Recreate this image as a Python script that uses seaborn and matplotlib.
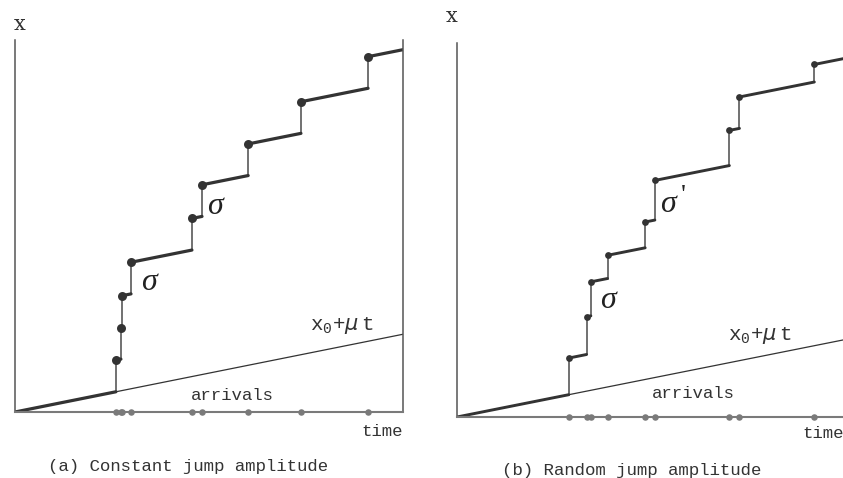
import numpy as np
import pandas as pd
import seaborn as sns
import matplotlib.pyplot as plt

# ---------------------------------------------------------------
# Data (time and level both on 0..10)
# ---------------------------------------------------------------
T_END = 10.0

# (a) constant jump amplitude
mu_a = 0.209
sigma_a = 0.85
arrivals_a = [2.60, 2.73, 2.76, 2.99, 4.56, 4.82, 6.01, 7.37, 9.10]
jumps_a = [sigma_a] * len(arrivals_a)

# (b) random jump amplitude
mu_b = 0.207
arrivals_b = [2.88, 3.34, 3.45, 3.88, 4.85, 5.10, 7.02, 7.28, 9.21]
jumps_b = [0.98, 1.01, 0.91, 0.62, 0.69, 1.06, 0.94, 0.84, 0.47]

captions = ["(a) Constant jump amplitude", "(b) Random jump amplitude"]

# ---------------------------------------------------------------
# Style
# ---------------------------------------------------------------
sns.set_theme(style="white")
plt.rcParams["font.family"] = ["Liberation Mono", "DejaVu Sans"]
plt.rcParams["mathtext.fontset"] = "custom"
plt.rcParams["mathtext.rm"] = "Liberation Mono"
plt.rcParams["mathtext.it"] = "DejaVu Sans:italic"

W, H = 843, 478
DARK = "#333333"
MID = "#666666"
LIGHT = "#7a7a7a"


def fx(px):
    return px / W


def fy(py):
    return 1 - py / H


def build_path(arrivals, jumps, mu):
    """Return flat segments, vertical jumps and post-jump points."""
    seg_rows, jump_rows, dots = [], [], []
    t_prev, level = 0.0, 0.0
    for k, (t, j) in enumerate(zip(arrivals, jumps)):
        pre = level + mu * (t - t_prev)
        seg_rows += [(k, t_prev, level), (k, t, pre)]
        post = pre + j
        jump_rows += [(k, t, pre), (k, t, post)]
        dots.append((t, post))
        t_prev, level = t, post
    end = level + mu * (T_END - t_prev)
    seg_rows += [(len(arrivals), t_prev, level), (len(arrivals), T_END, end)]
    segs = pd.DataFrame(seg_rows, columns=["seg", "t", "x"])
    jmps = pd.DataFrame(jump_rows, columns=["seg", "t", "x"])
    pts = pd.DataFrame(dots, columns=["t", "x"])
    return segs, jmps, pts


def draw_panel(ax, arrivals, jumps, mu, lw, dot_size):
    segs, jmps, pts = build_path(arrivals, jumps, mu)
    drift = pd.DataFrame({"t": [0.0, T_END], "x": [0.0, mu * T_END]})

    sns.lineplot(data=drift, x="t", y="x", ax=ax, color=DARK, lw=0.9,
                 estimator=None, sort=False)
    sns.lineplot(data=jmps, x="t", y="x", units="seg", ax=ax, color=MID,
                 lw=1.3, estimator=None, sort=False)
    sns.lineplot(data=segs, x="t", y="x", units="seg", ax=ax, color=DARK,
                 lw=lw, estimator=None, sort=False)
    sns.scatterplot(data=pts, x="t", y="x", ax=ax, color=DARK, s=dot_size,
                    edgecolor=DARK, linewidth=0, zorder=5)
    base = pd.DataFrame({"t": arrivals, "x": [0.0] * len(arrivals)})
    sns.scatterplot(data=base, x="t", y="x", ax=ax, color=LIGHT, s=22,
                    edgecolor=LIGHT, linewidth=0, zorder=6, clip_on=False)

    ax.set_xlim(0, T_END)
    ax.set_ylim(0, T_END)
    ax.set_xticks([])
    ax.set_yticks([])
    ax.set_xlabel("")
    ax.set_ylabel("")
    ax.spines["top"].set_visible(False)
    for side in ["left", "right", "bottom"]:
        ax.spines[side].set_color("#555555")
        ax.spines[side].set_linewidth(1.1)
    ax.spines["bottom"].set_color(LIGHT)
    ax.spines["bottom"].set_linewidth(1.5)


fig = plt.figure(figsize=(W / 100, H / 100), dpi=100)
ax_a = fig.add_axes([fx(15), fy(412), fx(388), 372 / H])
ax_b = fig.add_axes([fx(457), fy(417), fx(388), 374 / H])

draw_panel(ax_a, arrivals_a, jumps_a, mu_a, lw=2.3, dot_size=42)
draw_panel(ax_b, arrivals_b, jumps_b, mu_b, lw=2.1, dot_size=24)

# ---------------------------------------------------------------
# Annotations
# ---------------------------------------------------------------
sig_kw = dict(family="Liberation Serif", style="italic", fontsize=23,
              ha="left", va="center", color="#222222")
fig.text(fx(141), fy(282), "σ", **sig_kw)
fig.text(fx(207), fy(206), "σ", **sig_kw)
fig.text(fx(600), fy(301), "σ", **sig_kw)
fig.text(fx(660), fy(204), "σ", **sig_kw)
fig.text(fx(681), fy(196), "'", family="Liberation Serif", fontsize=20,
         ha="left", va="center", color="#222222")

x_kw = dict(family="DejaVu Serif", fontsize=15, ha="center", va="center",
            color="#333333")
fig.text(fx(20), fy(24), "x", **x_kw)
fig.text(fx(452), fy(17), "x", **x_kw)

lab_kw = dict(fontsize=12.5, ha="center", va="center", color="#333333")
fig.text(fx(382), fy(431), "time", **lab_kw)
fig.text(fx(823), fy(433), "time", **lab_kw)
fig.text(fx(232), fy(395), "arrivals", **lab_kw)
fig.text(fx(693), fy(393), "arrivals", **lab_kw)

drift_lab = r"$\mathrm{x}_{\mathrm{0}}\mathrm{+}\mu\,\mathrm{t}$"
fig.text(fx(342), fy(325), drift_lab, fontsize=15, ha="center", va="center",
         color="#333333")
fig.text(fx(760), fy(335), drift_lab, fontsize=15, ha="center", va="center",
         color="#333333")

fig.text(fx(188), fy(467), captions[0], fontsize=12.5, ha="center",
         va="center", color="#333333")
fig.text(fx(632), fy(470), captions[1], fontsize=12.5, ha="center",
         va="center", color="#333333")

fig.savefig("out.png", dpi=100)
plt.close(fig)
